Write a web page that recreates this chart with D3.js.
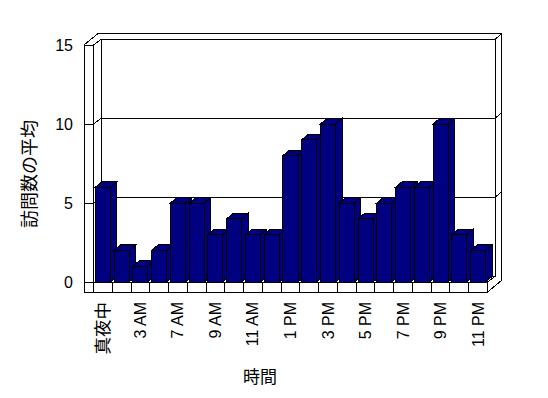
<!DOCTYPE html>
<html>
<head>
<meta charset="utf-8">
<script src="https://cdn.jsdelivr.net/npm/d3@7"></script>
<style>
  body { margin: 0; background: #fff; }
  svg { display: block; }
  text { font-family: "Liberation Sans", Arial, "Noto Sans CJK JP", sans-serif; fill: #000; }
</style>
</head>
<body>
<svg width="548" height="398"></svg>
<script>
// data
const hours = ["真夜中", "1 AM", "3 AM", "5 AM", "7 AM", "8 AM", "9 AM", "10 AM", "11 AM", "正午",
               "1 PM", "2 PM", "3 PM", "4 PM", "5 PM", "6 PM", "7 PM", "8 PM", "9 PM", "10 PM", "11 PM"];
const visits = [6, 2, 1, 2, 5, 5, 3, 4, 3, 3, 8, 9, 10, 5, 4, 5, 6, 6, 10, 3, 2];
const yTicks = [0, 5, 10, 15];
const shownLabels = ["真夜中", "3 AM", "7 AM", "9 AM", "11 AM", "1 PM", "3 PM", "5 PM", "7 PM", "9 PM", "11 PM"];
const yTitle = "訪問数の平均";
const xTitle = "時間";

const svg = d3.select("svg").attr("shape-rendering", "crispEdges");

const x = d3.scaleBand().domain(hours).range([93.5, 487.5]);
const y = d3.scaleLinear().domain([0, 15]).range([282, 45]);

const x0 = x.range()[0], x1 = x.range()[1];
const wallL = 84, floorB = 292;
const B = [7.5, -5.5];   // front -> back wall inner face
const O = [14, -11.5];   // front -> back wall outer face
const D = [6.5, -5.5];   // bar depth

const g = svg.append("g").attr("fill", "none").attr("stroke", "#000");

// back wall
g.append("rect")
  .attr("x", x0 + B[0]).attr("y", y(15) + B[1])
  .attr("width", x1 - x0).attr("height", y(0) - y(15))
  .attr("fill", "#fff");

// gridlines (back wall + side connectors)
const grid = [5, 10];
g.selectAll(".grid").data(grid).enter().append("path")
  .attr("class", "grid")
  .attr("d", d => `M${x0},${y(d)}L${x0 + B[0]},${y(d) + B[1]}H${x1 + B[0]}L${x1 + O[0]},${y(d) + O[1]}`);

// outer slab outline
g.append("path")
  .attr("d", `M${wallL},${y(15)}L${wallL + O[0]},${y(15) + O[1]}H${x1 + O[0]}V${floorB + O[1]}L${x1},${floorB}`);
g.append("path").attr("d", `M${x0},${y(15)}L${x0 + B[0]},${y(15) + B[1]}`);
g.append("path").attr("d", `M${x1 + B[0]},${y(15) + B[1]}L${x1 + O[0]},${y(15) + O[1]}`);
g.append("path").attr("d", `M${x1},${y(0)}L${x1 + B[0]},${y(0) + B[1]}`);

// left wall front face and floor front face
g.append("rect").attr("x", wallL).attr("y", y(15))
  .attr("width", x0 - wallL).attr("height", floorB - y(15)).attr("fill", "#fff");
g.append("rect").attr("x", wallL).attr("y", y(0))
  .attr("width", x1 - wallL).attr("height", floorB - y(0)).attr("fill", "#fff");

// ticks across the wall face
g.selectAll(".ytick").data(yTicks).enter().append("line")
  .attr("x1", wallL).attr("x2", x0)
  .attr("y1", d => y(d)).attr("y2", d => y(d));

// cell lines on the floor face
g.selectAll(".cell").data(hours).enter().append("line")
  .attr("x1", d => x(d)).attr("x2", d => x(d))
  .attr("y1", y(0)).attr("y2", floorB);

// 3D bars
const bw = x.bandwidth() * 0.8, off = x.bandwidth() * 0.1;
const bars = svg.append("g").attr("fill", "#000080").attr("stroke", "#000")
  .selectAll("g").data(hours).enter().append("g");

bars.each(function (h, i) {
  const bx = x(h) + off, top = y(visits[i]), base = y(0);
  const sel = d3.select(this);
  sel.append("path") // side
    .attr("d", `M${bx + bw},${top}L${bx + bw + D[0]},${top + D[1]}V${base + D[1]}L${bx + bw},${base}Z`);
  sel.append("path") // top
    .attr("d", `M${bx},${top}L${bx + D[0]},${top + D[1]}H${bx + bw + D[0]}L${bx + bw},${top}Z`);
  sel.append("rect") // front
    .attr("x", bx).attr("y", top).attr("width", bw).attr("height", base - top);
});

// y tick labels
svg.selectAll(".ylab").data(yTicks).enter().append("text")
  .attr("x", 73).attr("y", d => y(d))
  .attr("text-anchor", "end").attr("dominant-baseline", "central")
  .style("font-size", "16px")
  .text(d => d);

// x labels, rotated
svg.selectAll(".xlab").data(shownLabels).enter().append("text")
  .attr("transform", d => `translate(${x(d) + x.bandwidth() / 2},302) rotate(-90)`)
  .attr("text-anchor", "end").attr("dominant-baseline", "central")
  .style("font-size", d => /[A-Z]/.test(d) ? "16px" : "17.5px")
  .text(d => d);

// axis titles
svg.append("text")
  .attr("transform", "translate(28,174) rotate(-90)")
  .attr("text-anchor", "middle").attr("dominant-baseline", "central")
  .style("font-size", "18px").style("font-family", "'Noto Sans CJK JP', sans-serif")
  .text(yTitle);

svg.append("text")
  .attr("x", 260).attr("y", 375)
  .attr("text-anchor", "middle").attr("dominant-baseline", "central")
  .style("font-size", "17px").style("font-family", "'Noto Sans CJK JP', sans-serif")
  .text(xTitle);
</script>
</body>
</html>
